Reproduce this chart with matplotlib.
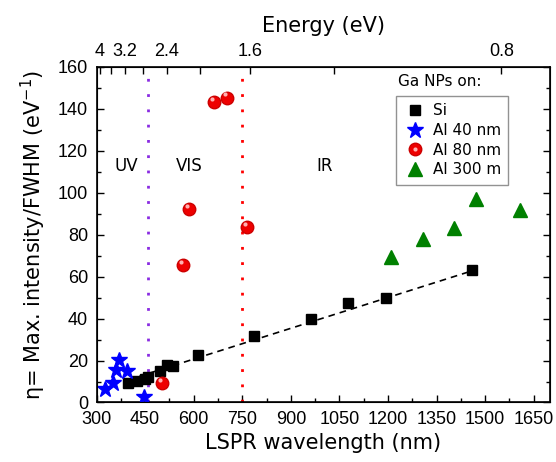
import numpy as np
import matplotlib.pyplot as plt
from matplotlib.ticker import MultipleLocator

plt.rcParams['font.family'] = 'DejaVu Sans'

# Ga NPs on Si (black squares)
si_wl = [398, 424, 449, 460, 496, 516, 537, 614, 787, 962, 1078, 1193, 1461]
si_eta = [9.1, 10.4, 11.2, 12.0, 15.2, 17.9, 17.6, 22.4, 31.6, 39.6, 47.6, 49.7, 63.0]

# Ga NPs on Al 40 nm (blue stars)
al40_wl = [326, 352, 359, 369, 393, 446]
al40_eta = [6.4, 9.1, 15.7, 20.3, 14.8, 2.8]

# Ga NPs on Al 80 nm (red spheres)
al80_wl = [501, 566, 585, 662, 703, 765]
al80_eta = [9.1, 65.3, 92.3, 143.2, 145.3, 83.5]

# Ga NPs on Al 300 m (green triangles)
al300_wl = [1208, 1308, 1404, 1471, 1607]
al300_eta = [69.5, 77.8, 83.1, 97.1, 91.5]

# linear fit to the Si data (end points)
fit_wl = [398, 1461]
fit_eta = [10.8, 62.8]

# region borders
uv_vis = 460
vis_ir = 750

# top axis energies
energy_major = [4, 3.2, 2.4, 1.6, 0.8]
energy_minor = [3.6, 2.8, 2.0, 1.2]

fig = plt.figure(figsize=(5.56, 4.62), dpi=100)
ax = fig.add_axes([0.1737, 0.1288, 0.8153, 0.7268])

ax.axvline(uv_vis, color='#8a2be2', lw=2, ls=(0, (1, 4.5)))
ax.axvline(vis_ir, color='red', lw=2, ls=(0, (1, 4.5)))

ax.plot(fit_wl, fit_eta, color='black', ls=(0, (4, 3)), lw=1.2, zorder=2)

h_si, = ax.plot(si_wl, si_eta, 's', color='black', ms=7.5, ls='none', zorder=3, label='Si')
h_al40, = ax.plot(al40_wl, al40_eta, '*', color='blue', ms=12, ls='none', zorder=3, label='Al 40 nm')
h_al80, = ax.plot(al80_wl, al80_eta, 'o', color='#ee0000', mec='#cc0000', ms=9, ls='none', zorder=3)
h_hl, = ax.plot(np.array(al80_wl) - 6, np.array(al80_eta) + 1.5, 'o', color='#ffb0b0',
                mec='none', ms=3, ls='none', zorder=4)
h_al300, = ax.plot(al300_wl, al300_eta, '^', color='#008000', ms=10, ls='none', zorder=3, label='Al 300 m')

ax.text(391, 112.5, 'UV', ha='center', va='center', fontsize=12)
ax.text(587, 112.5, 'VIS', ha='center', va='center', fontsize=12)
ax.text(1004, 112.5, 'IR', ha='center', va='center', fontsize=12)

ax.set_xlim(300, 1700)
ax.set_ylim(0, 160)
ax.xaxis.set_major_locator(MultipleLocator(150))
ax.xaxis.set_minor_locator(MultipleLocator(75))
ax.yaxis.set_major_locator(MultipleLocator(20))
ax.yaxis.set_minor_locator(MultipleLocator(10))
ax.tick_params(which='both', direction='in', right=True, top=False, labelsize=13)
ax.tick_params(which='major', length=5, width=1)
ax.tick_params(which='minor', length=3, width=1)
ax.tick_params(axis='x', pad=6)
ax.tick_params(axis='y', pad=6)
for lab in ax.get_xticklabels() + ax.get_yticklabels():
    lab.set_family('Liberation Sans')
for s in ax.spines.values():
    s.set_linewidth(1.2)

ax.set_xlabel('LSPR wavelength (nm)', fontsize=15, labelpad=4)
ax.set_ylabel('η= Max. intensity/FWHM (eV$^{-1}$)', fontsize=15, labelpad=7)

top = ax.twiny()
top.set_xlim(ax.get_xlim())
top.set_xticks([1240 / e for e in energy_major])
top.set_xticklabels([f'{e:g}' for e in energy_major], family='Liberation Sans')
top.set_xticks([1240 / e for e in energy_minor], minor=True)
top.tick_params(which='both', direction='in', labelsize=13, pad=5)
top.tick_params(which='major', length=5, width=1)
top.tick_params(which='minor', length=5, width=1)
top.set_xlabel('Energy (eV)', fontsize=15, labelpad=8)

ax.text(1360, 149.5, 'Ga NPs on:', ha='center', va='bottom', fontsize=11)
leg = ax.legend([h_si, h_al40, (h_al80, h_hl), h_al300], ['Si', 'Al 40 nm', 'Al 80 nm', 'Al 300 m'],
                loc='upper left', bbox_to_anchor=(0.6435, 0.936), fontsize=11, frameon=True,
                fancybox=False, edgecolor='#777777', handletextpad=0.4, borderpad=0.5,
                labelspacing=0.3, handlelength=1.5, numpoints=1)
leg.get_frame().set_linewidth(1)

fig.savefig('out.png', dpi=100)
